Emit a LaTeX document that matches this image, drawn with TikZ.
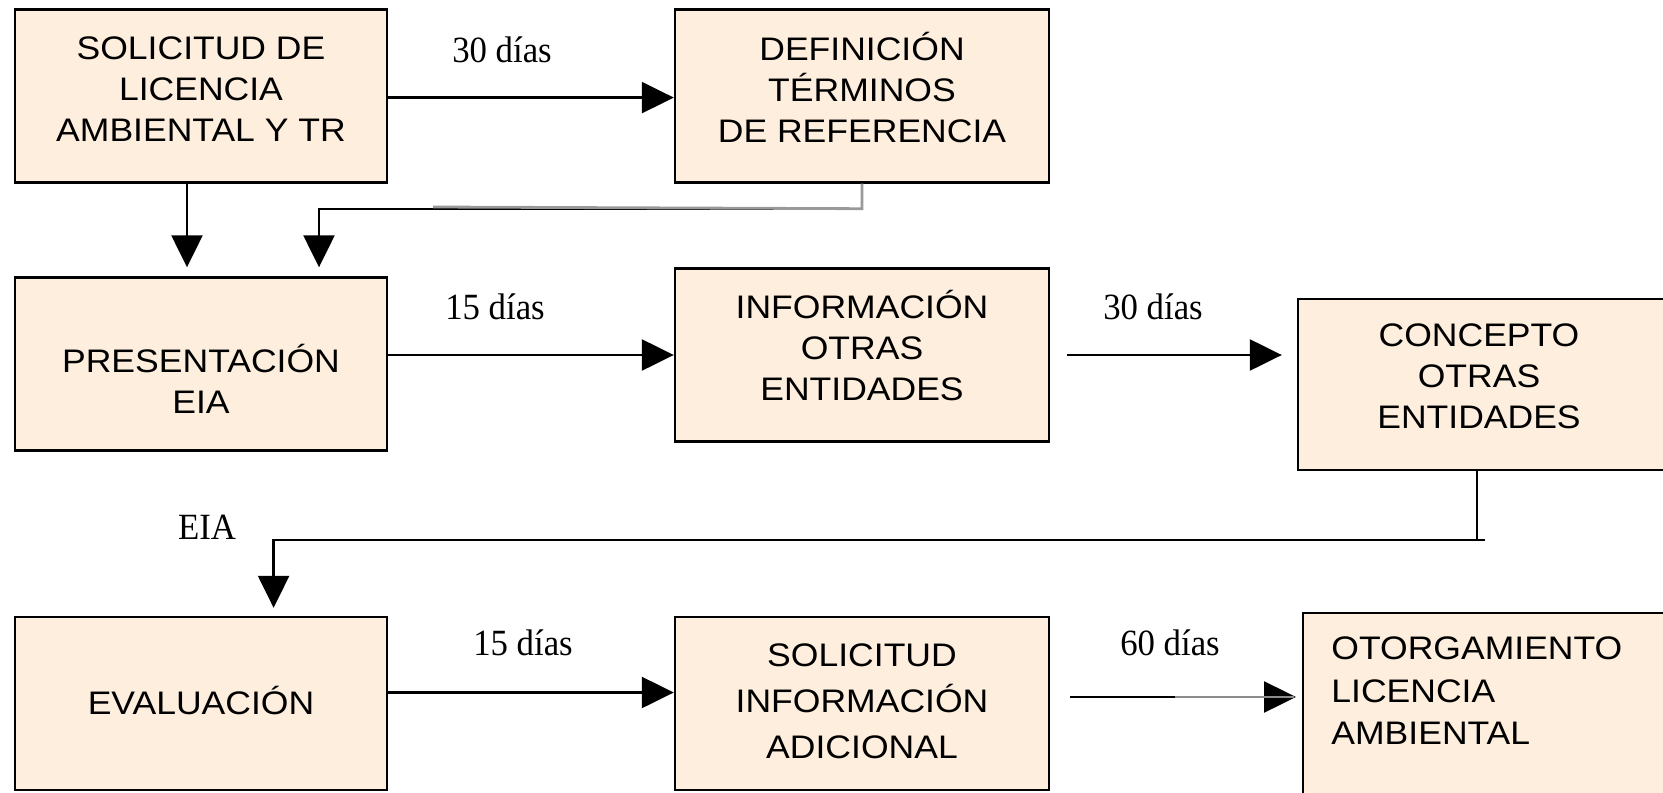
\documentclass[tikz,border=0pt]{standalone}
\usepackage{fontspec}
\setmainfont{Liberation Serif}
\setsansfont{Liberation Sans}
\newfontfamily\cajas[FakeStretch=1.09]{Liberation Sans}
\newfontfamily\plazo[FakeStretch=0.94]{Liberation Serif}
\usetikzlibrary{arrows.meta,positioning,calc}
\definecolor{durazno}{RGB}{253,238,221}

\begin{document}
\begin{tikzpicture}[x=0.5pt, y=-0.5pt,
  every node/.style = {align=center},
  paso/.style = {shape=rectangle, draw, line width=1.2pt, fill=durazno,
    minimum width=186pt, minimum height=86.5pt, inner sep=0pt},
  rotulo/.style = {inner sep=0pt, font=\cajas\fontsize{16.3}{20.5}\selectfont},
  dias/.style = {font=\plazo\fontsize{18.5}{20}\selectfont},
  flecha/.style = {line width=1.2pt, -{Triangle[length=16pt,width=15.5pt]}}]
  \useasboundingbox (0,0) rectangle (1663,792);
  \clip (0,0) rectangle (1663,792);

  % cajas
  \node[paso] (solic) at (201,96) {};
  \node[paso, minimum width=187pt] (defin) at (862,96) {};
  \node[paso] (presen) at (201,364) {};
  \node[paso, minimum width=187pt] (info) at (862,355) {};
  \node[paso, minimum height=85.5pt] (concep) at (1484,384.5) {};
  \node[paso] (evalua) at (201,703.5) {};
  \node[paso, minimum width=187pt] (solinf) at (862,703.5) {};
  \node[paso, minimum height=95pt, anchor=north west] (otorga) at (1302,612) {};

  \node[rotulo] (solictxt) at ([yshift=3.25pt]solic) {SOLICITUD DE\\LICENCIA\\AMBIENTAL Y TR};
  \node[rotulo] (defintxt) at ([yshift=4.2pt]defin) {DEFINICIÓN\\TÉRMINOS\\DE REFERENCIA};
  \node[rotulo] (presentxt) at ([yshift=-7.5pt]presen) {PRESENTACIÓN\\EIA};
  \node[rotulo] (infotxt) at ([yshift=4.9pt]info) {INFORMACIÓN\\OTRAS\\ENTIDADES};
  \node[rotulo] (conceptxt) at ([xshift=-2.5pt,yshift=4.25pt]concep) {CONCEPTO\\OTRAS\\ENTIDADES};
  \node[rotulo] (evaluatxt) at ([yshift=1.5pt]evalua) {EVALUACIÓN};
  \node[rotulo, font=\cajas\fontsize{16.3}{23}\selectfont] (solinftxt) at ([yshift=1pt]solinf)
    {SOLICITUD\\INFORMACIÓN\\ADICIONAL};
  \node[rotulo, font=\cajas\fontsize{16.3}{21.2}\selectfont, align=left,
    anchor=north west] (otorgatxt) at (1331,636.5) {OTORGAMIENTO\\LICENCIA\\AMBIENTAL};

  % plazos
  \node[dias] (d1) at (502,50) {30 días};
  \node[dias] (d2) at (495,306.5) {15 días};
  \node[dias] (d3) at (1153,306.5) {30 días};
  \node[dias] (d4) at (523,643) {15 días};
  \node[dias] (d5) at (1170,643) {60 días};
  \node[dias] (eia) at (207,527) {EIA};

  % flechas
  \draw[flecha] ([yshift=-0.8pt]solic.east) -- ([yshift=-0.8pt]defin.west);
  \draw[flecha] (presen.east |- info.west) -- (info.west);
  \coordinate (c1) at ($(info.east)+(17,0)$);
  \draw[flecha, shorten >=7.5pt] (c1) -- (concep.west |- c1);
  \draw[flecha] ([yshift=5.5pt]evalua.east) -- ([yshift=5.5pt]solinf.west);
  \coordinate (c2) at ($(solinf.east)+(20,-6.5)$);
  \draw[flecha, shorten >=3pt] (c2) -- (otorga.west |- c2);
  \coordinate (c3) at ($(c2)+(105,0)$);
  \draw[black!45, line width=1.2pt] (c3) -- ([xshift=-4pt]otorga.west |- c2);

  \draw[flecha, shorten >=4.5pt] ([xshift=-7pt]solic.south) -- ([xshift=-7pt]presen.north);
  \coordinate (codo) at ($(defin.south)+(0,25)$);
  \draw[flecha, shorten >=4.5pt] (defin.south) -- (codo) -| ([xshift=59pt]presen.north);
  \coordinate (gris) at (433,207);
  \draw[black!40, line width=1.4pt] (defin.south) -- (codo) -- (gris);

  \coordinate (baja) at ($([xshift=-3.5pt]concep.south)+(0,69)$);
  \draw[line width=1.2pt] ([xshift=-3.5pt]concep.south) -- (baja) -- ++(8,0);
  \draw[flecha, shorten >=4pt] (baja) -| ([xshift=36.3pt]evalua.north);
\end{tikzpicture}
\end{document}
